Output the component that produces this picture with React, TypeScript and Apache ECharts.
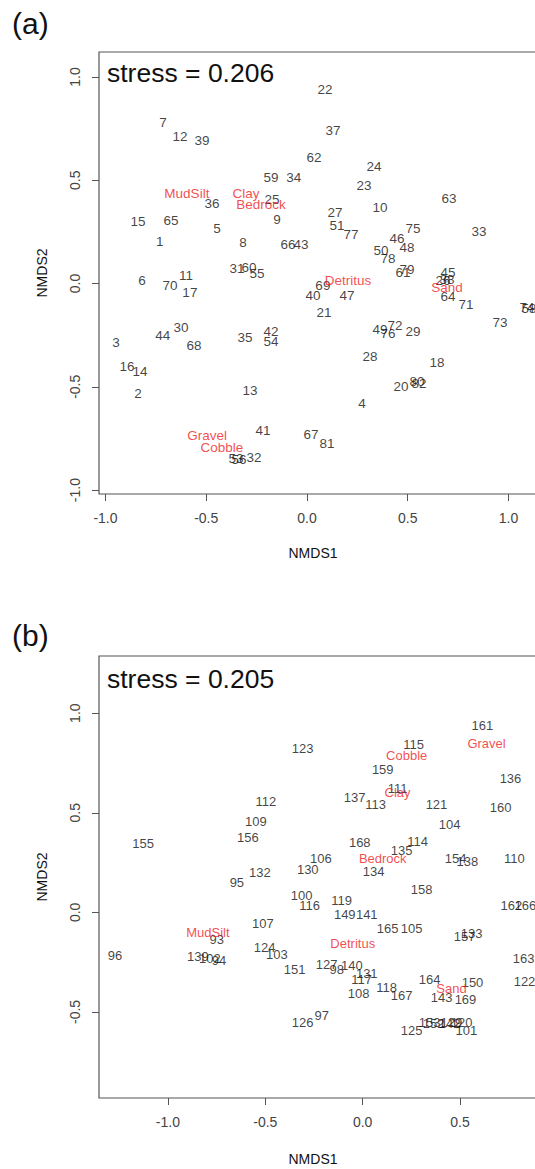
import React, { useEffect, useRef } from "react";
import * as echarts from "echarts";

// ---------- Panel (a) ----------
const siteNamesA = ["7","12","39","36","15","65","5","1","8","6","70","11","17","31","60","55","22","37","62","24","59","34","23","25","63","10","27","9","51","77","75","33","46","48","66","43","50","78","79","61","45","26","38","64","71","74","58","69","40","47","21","3","44","30","68","35","42","54","16","14","2","13","41","67","81","53","56","32","49","72","76","29","28","18","20","80","82","4","73"];
const siteXA = [-0.715,-0.630,-0.521,-0.471,-0.839,-0.675,-0.447,-0.730,-0.318,-0.819,-0.680,-0.600,-0.581,-0.347,-0.288,-0.248,0.089,0.129,0.035,0.333,-0.179,-0.065,0.283,-0.174,0.705,0.362,0.139,-0.149,0.149,0.218,0.526,0.854,0.447,0.496,-0.094,-0.030,0.367,0.402,0.496,0.476,0.700,0.675,0.695,0.700,0.789,1.092,1.102,0.079,0.030,0.199,0.084,-0.948,-0.715,-0.625,-0.561,-0.308,-0.179,-0.179,-0.893,-0.829,-0.839,-0.283,-0.218,0.020,0.099,-0.352,-0.337,-0.263,0.362,0.437,0.402,0.526,0.313,0.645,0.467,0.546,0.556,0.273,0.958];
const siteYA = [0.780,0.712,0.692,0.387,0.300,0.305,0.266,0.203,0.199,0.015,-0.010,0.039,-0.044,0.073,0.077,0.048,0.939,0.741,0.610,0.567,0.513,0.513,0.475,0.407,0.412,0.368,0.344,0.310,0.281,0.237,0.266,0.252,0.218,0.174,0.189,0.189,0.160,0.121,0.068,0.053,0.053,0.015,0.019,-0.063,-0.102,-0.116,-0.121,-0.010,-0.058,-0.058,-0.140,-0.286,-0.252,-0.213,-0.300,-0.262,-0.232,-0.281,-0.402,-0.426,-0.533,-0.518,-0.712,-0.731,-0.775,-0.847,-0.852,-0.843,-0.223,-0.203,-0.242,-0.232,-0.354,-0.383,-0.499,-0.475,-0.484,-0.581,-0.189];
const substrateNamesA = ["MudSilt","Clay","Bedrock","Detritus","Sand","Gravel","Cobble"];
const substrateXA = [-0.596,-0.303,-0.228,0.203,0.695,-0.496,-0.422];
const substrateYA = [0.436,0.436,0.383,0.015,-0.019,-0.736,-0.794];
const stressA = "0.206";

// ---------- Panel (b) ----------
const siteNamesB = ["123","112","109","156","155","106","130","132","95","100","116","161","115","159","136","137","113","111","121","160","104","168","114","135","154","138","110","134","158","119","162","166","149","141","165","105","157","133","163","127","98","140","131","117","164","150","122","118","108","167","143","169","126","97","125","153","152","142","129","120","101","151","107","93","96","139","102","94","124","103"];
const siteXB = [-0.308,-0.497,-0.549,-0.590,-1.128,-0.215,-0.282,-0.528,-0.646,-0.313,-0.272,0.615,0.262,0.103,0.759,-0.041,0.067,0.179,0.379,0.708,0.446,-0.015,0.282,0.200,0.477,0.538,0.779,0.056,0.303,-0.108,0.764,0.836,-0.092,0.021,0.128,0.251,0.523,0.559,0.826,-0.185,-0.133,-0.056,0.021,-0.005,0.344,0.564,0.831,0.123,-0.021,0.200,0.405,0.528,-0.308,-0.210,0.251,0.344,0.364,0.446,0.456,0.508,0.533,-0.349,-0.513,-0.749,-1.272,-0.846,-0.785,-0.738,-0.503,-0.441];
const siteYB = [0.824,0.558,0.457,0.377,0.347,0.271,0.216,0.201,0.151,0.085,0.035,0.940,0.844,0.719,0.673,0.578,0.543,0.623,0.543,0.528,0.442,0.352,0.357,0.312,0.271,0.256,0.271,0.206,0.116,0.060,0.035,0.035,-0.010,-0.010,-0.080,-0.080,-0.121,-0.106,-0.231,-0.261,-0.286,-0.266,-0.307,-0.337,-0.337,-0.352,-0.347,-0.377,-0.407,-0.417,-0.427,-0.437,-0.553,-0.518,-0.593,-0.553,-0.558,-0.558,-0.553,-0.553,-0.593,-0.286,-0.055,-0.136,-0.216,-0.221,-0.231,-0.241,-0.176,-0.211];
const substrateNamesB = ["Gravel","Cobble","Clay","Bedrock","Detritus","MudSilt","Sand"];
const substrateXB = [0.636,0.226,0.179,0.103,-0.051,-0.795,0.456];
const substrateYB = [0.849,0.789,0.603,0.271,-0.156,-0.101,-0.382];
const stressB = "0.205";

// axis tick values
const tickValues = [-1, -0.5, 0, 0.5, 1];

const FONT = "Liberation Sans, Arial, sans-serif";
const AXIS_COLOR = "#555555";
const TEXT_COLOR = "#111111";
const RED = "#ee1c25";

function pts(names: string[], xs: number[], ys: number[]) {
  return names.map((n, i) => ({ name: n, value: [xs[i], ys[i]] }));
}

function labelSeries(data: any[], idx: number, color: string, fontSize: number) {
  return {
    type: "scatter",
    xAxisIndex: idx,
    yAxisIndex: idx,
    data,
    symbol: "circle",
    symbolSize: 1,
    itemStyle: { color: "rgba(0,0,0,0)" },
    silent: true,
    emphasis: { disabled: true },
    label: {
      show: true,
      position: "inside",
      formatter: "{b}",
      color,
      fontSize,
      fontFamily: FONT,
    },
    z: color === RED ? 3 : 2,
  };
}

function xAxisCfg(idx: number, min: number, max: number) {
  return {
    type: "value",
    gridIndex: idx,
    min,
    max,
    axisLine: { show: false, onZero: false },
    splitLine: { show: false },
    axisTick: {
      show: true,
      length: 7,
      inside: false,
      customValues: tickValues,
      lineStyle: { color: AXIS_COLOR, width: 1 },
    },
    axisLabel: {
      show: true,
      customValues: tickValues,
      formatter: (v: number) => v.toFixed(1),
      color: "#444",
      fontSize: 14,
      fontFamily: FONT,
      margin: 17,
    },
  };
}

function yAxisCfg(idx: number, min: number, max: number) {
  return {
    type: "value",
    gridIndex: idx,
    min,
    max,
    axisLine: { show: false, onZero: false },
    splitLine: { show: false },
    axisTick: {
      show: true,
      length: 7,
      inside: false,
      customValues: tickValues,
      lineStyle: { color: AXIS_COLOR, width: 1 },
    },
    axisLabel: {
      show: true,
      rotate: 90,
      customValues: tickValues,
      formatter: (v: number) => v.toFixed(1),
      color: "#444",
      fontSize: 14,
      fontFamily: FONT,
      margin: 17,
    },
  };
}

function txt(text: string, x: number, y: number, size: number, extra: any = {}) {
  return {
    type: "text",
    x,
    y,
    silent: true,
    ...extra,
    style: {
      text,
      fill: TEXT_COLOR,
      font: `${size}px ${FONT}`,
      textAlign: extra.align || "left",
      textVerticalAlign: "middle",
    },
  };
}

export default function App() {
  const ref = useRef<HTMLDivElement>(null);
  useEffect(() => {
    if (!ref.current) return;
    const chart = echarts.init(ref.current, null, { renderer: "svg" });
    const option: any = {
      animation: false,
      backgroundColor: "#ffffff",
      grid: [
        {
          left: 99,
          top: 52,
          width: 451,
          height: 442,
          show: true,
          borderColor: AXIS_COLOR,
          borderWidth: 1.2,
          backgroundColor: "transparent",
        },
        {
          left: 99,
          top: 656,
          width: 451,
          height: 442,
          show: true,
          borderColor: AXIS_COLOR,
          borderWidth: 1.2,
          backgroundColor: "transparent",
        },
      ],
      xAxis: [xAxisCfg(0, -1.032, 1.206), xAxisCfg(1, -1.354, 0.962)],
      yAxis: [yAxisCfg(0, -1.019, 1.121), yAxisCfg(1, -0.932, 1.287)],
      series: [
        labelSeries(pts(siteNamesA, siteXA, siteYA), 0, TEXT_COLOR, 13.5),
        labelSeries(pts(substrateNamesA, substrateXA, substrateYA), 0, RED, 13.5),
        labelSeries(pts(siteNamesB, siteXB, siteYB), 1, TEXT_COLOR, 13),
        labelSeries(pts(substrateNamesB, substrateXB, substrateYB), 1, RED, 13),
      ],
      graphic: [
        txt("(a)", 12, 23, 30),
        txt("stress = " + stressA, 107, 73, 26.5),
        txt("NMDS1", 313, 553, 14, { align: "center" }),
        { ...txt("NMDS2", 42, 273, 14, { align: "center" }), rotation: Math.PI / 2 },
        txt("(b)", 12, 635, 30),
        txt("stress = " + stressB, 107, 679, 26.5),
        txt("NMDS1", 313, 1159, 14, { align: "center" }),
        { ...txt("NMDS2", 42, 877, 14, { align: "center" }), rotation: Math.PI / 2 },
      ],
    };
    chart.setOption(option);
    return () => chart.dispose();
  }, []);
  return (
    <div style={{ position: "absolute", left: 0, top: 0, width: 535, height: 1169, overflow: "hidden", background: "#fff" }}>
      <div ref={ref} style={{ width: 560, height: 1169 }} />
    </div>
  );
}
